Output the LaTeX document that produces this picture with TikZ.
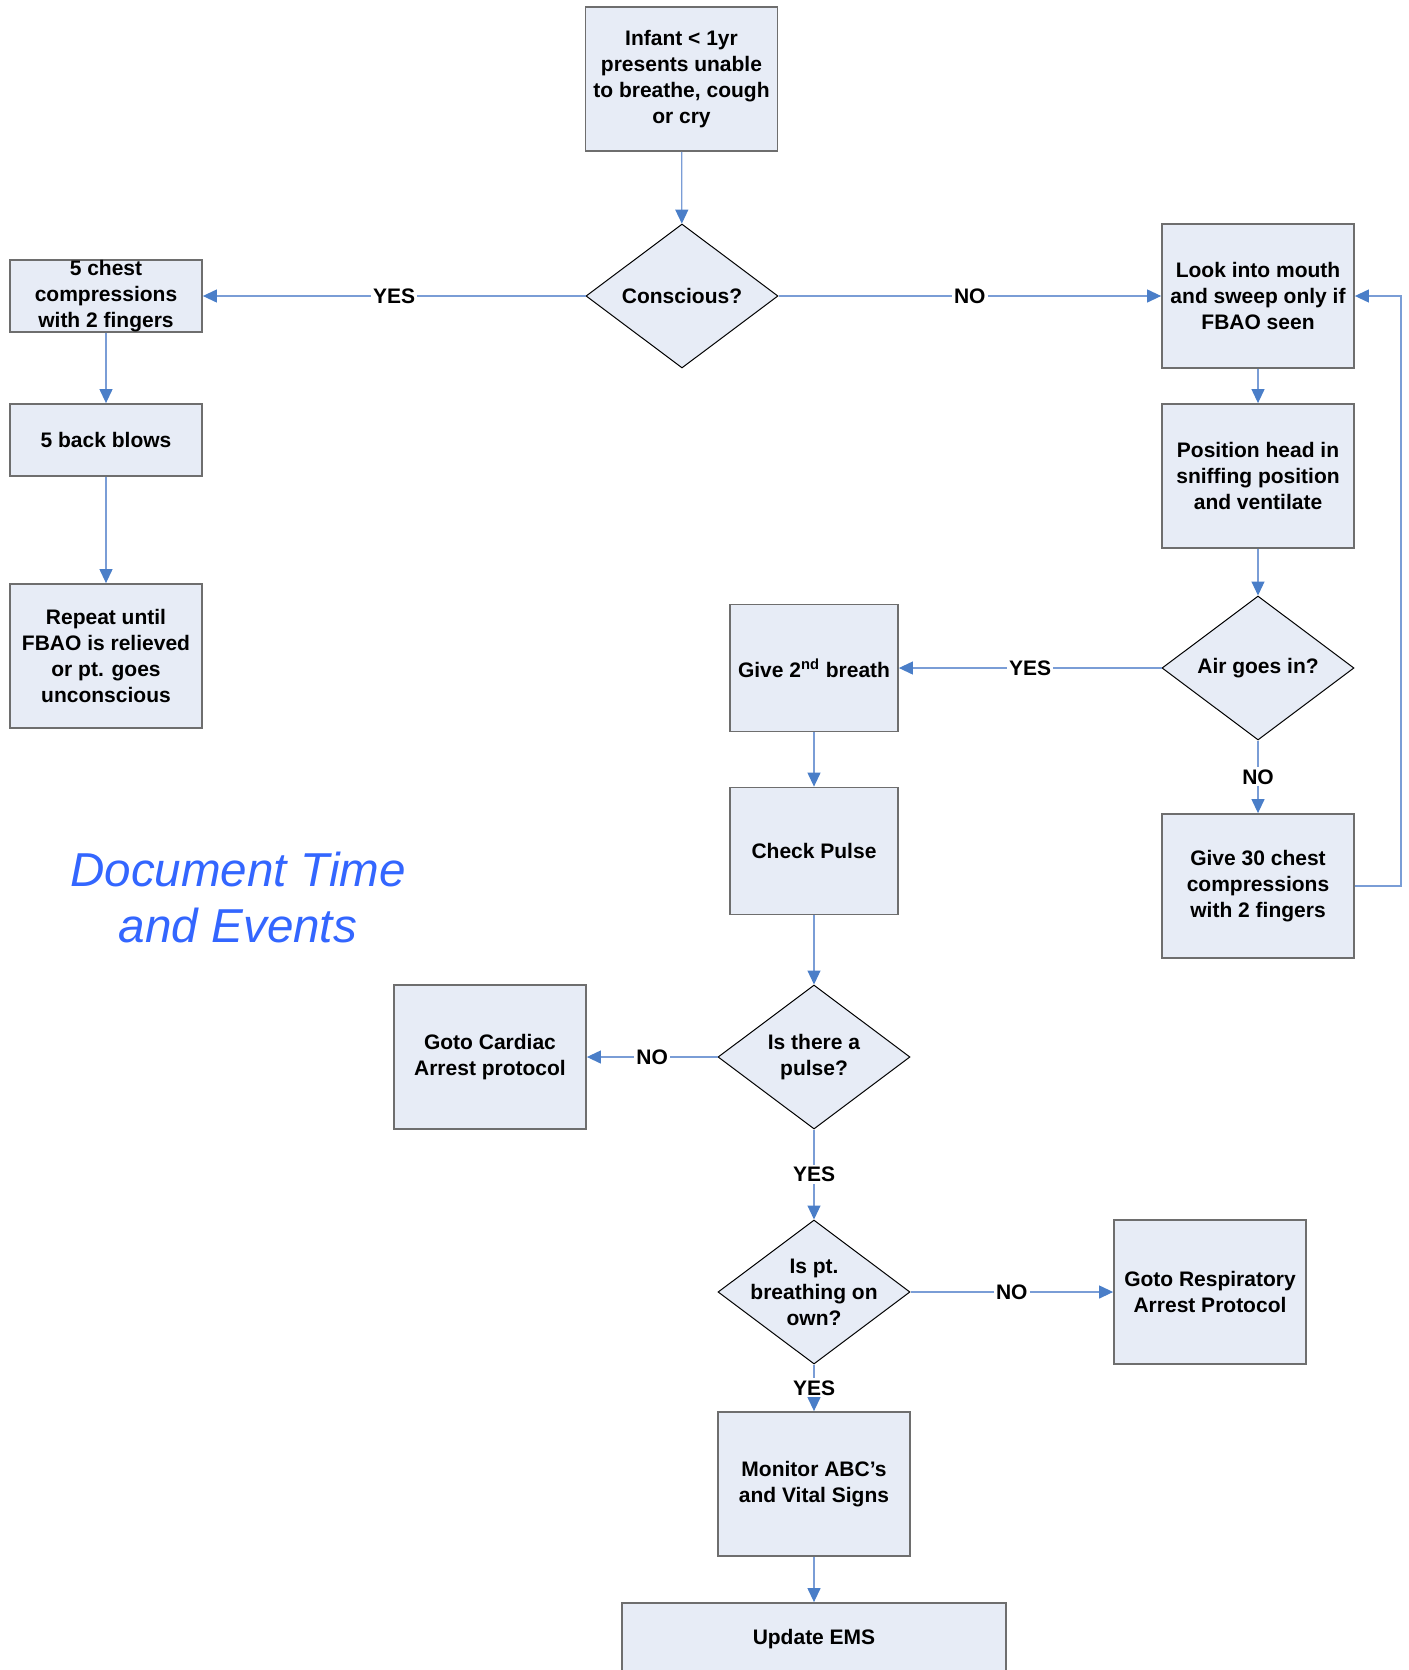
\documentclass[tikz,border=0pt]{standalone}
\usepackage{fontspec}
\setmainfont{Liberation Sans}
\usetikzlibrary{shapes.geometric,arrows.meta}
\definecolor{boxfill}{HTML}{E7ECF6}
\definecolor{boxline}{HTML}{6E6E6E}
\definecolor{arrblue}{HTML}{4A7EC8}
\definecolor{lineblue}{HTML}{7A9DD6}
\definecolor{noteblue}{HTML}{3366FF}
\tikzset{
  box/.style={rectangle, draw=boxline, line width=0.9pt, fill=boxfill,
    minimum width=96pt, minimum height=72pt, inner sep=0pt,
    font=\fontsize{10.5pt}{13pt}\selectfont\bfseries, align=center},
  shortbox/.style={box, minimum height=36pt},
  dia/.style={diamond, draw=black, line width=0.5pt, fill=boxfill,
    minimum width=96pt, minimum height=72pt, inner sep=0pt},
  diatext/.style={font=\fontsize{10.5pt}{13pt}\selectfont\bfseries, align=center},
  arr/.style={draw=lineblue, line width=0.6pt, -{Triangle[length=7pt,width=6.5pt,color=arrblue]}},
  lab/.style={font=\fontsize{10.5pt}{13pt}\selectfont\bfseries, fill=white, inner sep=1pt, pos=0.5},
  note/.style={font=\fontsize{23.8pt}{28pt}\selectfont\itshape, text=noteblue, align=center}
}
\begin{document}
\begin{tikzpicture}[x=0.5pt,y=-0.5pt]
\useasboundingbox (0,0) rectangle (1408,1670);
\begin{scope}
\clip (0,0) rectangle (1408,1670);
% nodes
\node[box] (start) at (681.5,79) {Infant < 1yr\\presents unable\\to breathe, cough\\or cry};
\node[dia, label={[diatext]center:Conscious?}] (consc) at (682,296) {};
\node[shortbox] (chest5) at (106,296) {5 chest\\compressions\\with 2 fingers};
\node[shortbox] (back5) at (106,440) {5 back blows};
\node[box] (repeat) at (106,656) {Repeat until\\FBAO is relieved\\or pt. goes\\unconscious};
\node[box] (look) at (1258,296) {Look into mouth\\and sweep only if\\FBAO seen};
\node[box] (pos) at (1258,476) {Position head in\\sniffing position\\and ventilate};
\node[dia, label={[diatext]center:Air goes in?}] (air) at (1258,668) {};
\node[box] (g30) at (1258,886) {Give 30 chest\\compressions\\with 2 fingers};
\node[box, minimum width=84pt, minimum height=63.5pt] (breath2) at (814,668) {Give 2\textsuperscript{nd} breath};
\node[box, minimum width=84pt, minimum height=63.5pt] (pulse) at (814,851) {Check Pulse};
\node[dia, label={[diatext]center:Is there a\\pulse?}] (ispulse) at (814,1057) {};
\node[box] (cardiac) at (490,1057) {Goto Cardiac\\Arrest protocol};
\node[dia, label={[diatext]center:Is pt.\\breathing on\\own?}] (breathing) at (814,1292) {};
\node[box] (resp) at (1210,1292) {Goto Respiratory\\Arrest Protocol};
\node[box] (monitor) at (814,1484) {Monitor ABC’s\\and Vital Signs};
\node[shortbox, minimum width=192pt] (ems) at (814,1639) {Update EMS};
\node[note] (docnote) at (238,897) {Document Time\\and Events};
\coordinate (fb) at (1401,0);
% connectors
\draw[arr] (start) -- (consc);
\draw[arr] (consc) -- node[lab] {YES} (chest5);
\draw[arr] (consc) -- node[lab] {NO} (look);
\draw[arr] (chest5) -- (back5);
\draw[arr] (back5) -- (repeat);
\draw[arr] (look) -- (pos);
\draw[arr] (pos) -- (air);
\draw[arr] (air) -- node[lab] {YES} (breath2);
\draw[arr] (air) -- node[lab] {NO} (g30);
\draw[arr] (g30.east) -- (g30.east -| fb) |- (look.east);
\draw[arr] (breath2) -- (pulse);
\draw[arr] (pulse) -- (ispulse);
\draw[arr] (ispulse) -- node[lab] {NO} (cardiac);
\draw[arr] (ispulse) -- node[lab] {YES} (breathing);
\draw[arr] (breathing) -- node[lab] {NO} (resp);
\draw[arr] (breathing) -- node[lab] {YES} (monitor);
\draw[arr] (monitor) -- (ems);
\end{scope}
\end{tikzpicture}
\end{document}
